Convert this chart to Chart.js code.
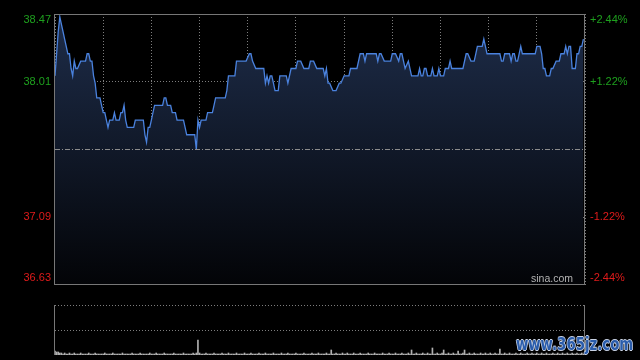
<!DOCTYPE html>
<html>
<head>
<meta charset="utf-8">
<script src="https://cdn.jsdelivr.net/npm/chart.js@4"></script>
<style>
  html, body { margin: 0; padding: 0; background: #000; }
  body { width: 640px; height: 360px; position: relative; overflow: hidden; }
  #priceChart { position: absolute; left: 0; top: 0; }
  #volChart { position: absolute; left: 0; top: 290px; }
  #mark {
    position: absolute; left: 516px; top: 333px;
    font: bold 18px "DejaVu Sans", sans-serif;
    color: #2a5cab;
    transform: scaleX(0.74); transform-origin: left top;
    text-shadow: 1px 0 0 #c8d2e4, -1px 0 0 #c8d2e4, 0 1px 0 #c8d2e4, 0 -1px 0 #c8d2e4;
    white-space: nowrap;
  }
</style>
</head>
<body>
<canvas id="priceChart" width="640" height="300"></canvas>
<canvas id="volChart" width="640" height="70"></canvas>
<div id="mark">www.365jz.com</div>
<script>
// ==========================
// データ（分足: 0 = 9:30, 330 = 16:00）
// ==========================
const PREV_CLOSE = 37.55;
const Y_MIN = 36.63;
const Y_MAX = 38.47;
const priceTicks = [38.47, 38.01, 37.09, 36.63];
const priceLabels = ["38.47", "38.01", "37.09", "36.63"];
const pctLabels = ["+2.44%", "+1.22%", "-1.22%", "-2.44%"];

const priceMinutes = [
  0, 1, 2, 3, 4, 5, 6, 7, 8, 9, 10, 11, 12, 13, 14, 16, 19, 20, 21, 22,
  23, 24, 25, 26, 28, 29, 30, 31, 32, 33, 34, 36, 37, 38, 40, 41, 42, 43, 44, 45,
  49, 50, 55, 56, 57, 58, 59, 60, 61, 62, 67, 68, 69, 70, 72, 73, 75, 76, 80, 81,
  82, 87, 88, 89, 90, 91, 94, 95, 98, 99, 100, 106, 107, 108, 112, 113, 119, 121, 122, 123,
  125, 130, 131, 132, 133, 134, 135, 136, 137, 139, 140, 144, 145, 147, 150, 151, 153, 155, 158, 159,
  161, 163, 167, 168, 169, 170, 171, 173, 175, 177, 178, 180, 183, 184, 188, 190, 192, 193, 194, 199,
  200, 201, 202, 203, 205, 209, 210, 212, 214, 215, 216, 217, 218, 220, 222, 226, 227, 228, 229, 230,
  231, 232, 234, 235, 236, 238, 239, 240, 242, 243, 245, 246, 247, 254, 256, 257, 259, 261, 262, 263,
  265, 266, 267, 268, 269, 277, 278, 279, 280, 282, 283, 284, 285, 286, 287, 288, 289, 290, 291, 299,
  300, 302, 303, 304, 305, 306, 308, 309, 310, 312, 314, 315, 317, 318, 319, 320, 321, 322, 324, 325,
  326, 327, 328, 329
];
const prices = [
  38.05, 38.20, 38.35, 38.45, 38.40, 38.35, 38.30, 38.25, 38.20, 38.20, 38.10, 38.05, 38.15, 38.10, 38.10, 38.15, 38.15, 38.20, 38.20, 38.15,
  38.15, 38.05, 38.00, 37.90, 37.90, 37.85, 37.80, 37.80, 37.75, 37.70, 37.75, 37.75, 37.80, 37.75, 37.75, 37.80, 37.80, 37.85, 37.75, 37.70,
  37.70, 37.75, 37.75, 37.65, 37.60, 37.70, 37.70, 37.75, 37.80, 37.85, 37.85, 37.90, 37.90, 37.85, 37.85, 37.80, 37.80, 37.75, 37.75, 37.70,
  37.65, 37.65, 37.55, 37.75, 37.70, 37.75, 37.75, 37.80, 37.80, 37.85, 37.90, 37.90, 37.95, 38.05, 38.05, 38.15, 38.15, 38.20, 38.20, 38.15,
  38.10, 38.10, 38.00, 38.05, 38.00, 38.05, 38.05, 38.00, 37.95, 37.95, 38.05, 38.05, 38.00, 38.10, 38.10, 38.15, 38.15, 38.10, 38.10, 38.15,
  38.15, 38.10, 38.10, 38.05, 38.10, 38.00, 38.00, 37.95, 37.95, 38.00, 38.00, 38.05, 38.05, 38.10, 38.10, 38.20, 38.20, 38.15, 38.20, 38.20,
  38.20, 38.15, 38.20, 38.20, 38.15, 38.15, 38.20, 38.20, 38.15, 38.20, 38.20, 38.15, 38.10, 38.15, 38.05, 38.05, 38.10, 38.05, 38.05, 38.10,
  38.10, 38.05, 38.05, 38.10, 38.05, 38.05, 38.10, 38.05, 38.05, 38.10, 38.10, 38.15, 38.10, 38.10, 38.20, 38.20, 38.15, 38.15, 38.20, 38.25,
  38.25, 38.25, 38.30, 38.25, 38.20, 38.20, 38.15, 38.15, 38.20, 38.20, 38.20, 38.15, 38.20, 38.20, 38.15, 38.15, 38.20, 38.25, 38.20, 38.20,
  38.25, 38.25, 38.20, 38.10, 38.10, 38.05, 38.05, 38.10, 38.10, 38.15, 38.15, 38.20, 38.20, 38.25, 38.20, 38.25, 38.25, 38.10, 38.10, 38.20,
  38.20, 38.25, 38.25, 38.30
];

// 出来高（1分ごと, 331本）
const volumes = [
  4, 3, 3, 2, 2, 1, 2, 1, 1, 2, 1, 1, 2, 1, 1, 1, 2, 1, 1, 1, 1, 2, 1, 1, 1, 2, 1, 1, 1, 1,
  1, 2, 1, 1, 1, 1, 2, 1, 1, 1, 1, 1, 2, 1, 1, 1, 1, 1, 2, 1, 1, 1, 1, 2, 1, 1, 1, 1, 1, 2,
  1, 1, 1, 2, 1, 1, 1, 1, 2, 1, 1, 1, 1, 1, 2, 1, 1, 1, 1, 1, 2, 1, 1, 1, 1, 1, 2, 1, 2, 15,
  2, 1, 1, 1, 2, 1, 1, 1, 1, 2, 1, 1, 1, 1, 2, 1, 1, 1, 2, 1, 1, 1, 1, 2, 1, 1, 1, 1, 2, 1,
  1, 1, 2, 1, 1, 1, 1, 2, 1, 1, 1, 2, 1, 1, 1, 1, 2, 1, 1, 1, 1, 2, 1, 1, 1, 2, 1, 1, 1, 1,
  2, 1, 1, 1, 1, 2, 1, 1, 1, 1, 2, 1, 1, 1, 2, 1, 1, 1, 1, 2, 1, 1, 5, 1, 1, 2, 1, 1, 1, 2,
  1, 1, 2, 1, 1, 1, 2, 1, 1, 1, 2, 1, 1, 1, 1, 2, 1, 1, 1, 2, 1, 1, 1, 1, 2, 1, 1, 1, 2, 1,
  1, 1, 2, 1, 1, 1, 2, 1, 1, 1, 2, 1, 5, 1, 1, 2, 1, 1, 1, 2, 1, 1, 2, 1, 1, 7, 1, 1, 2, 1,
  1, 2, 5, 1, 1, 2, 1, 1, 2, 1, 1, 4, 1, 1, 2, 5, 1, 1, 2, 1, 1, 2, 1, 1, 1, 2, 1, 1, 2, 1,
  1, 2, 1, 1, 2, 1, 1, 6, 1, 1, 2, 1, 1, 2, 1, 1, 1, 2, 1, 1, 2, 1, 1, 1, 2, 1, 1, 2, 1, 1,
  2, 1, 1, 2, 1, 1, 2, 1, 1, 1, 2, 1, 1, 2, 1, 1, 2, 1, 1, 2, 1, 1, 2, 1, 1, 2, 1, 1, 2, 1,
  2
];
const VOL_MAX = 50;

// ==========================
// 色
// ==========================
const GREEN = "#1ea01e";
const RED = "#e01b1b";
const GRID = "#7d7d7d";
const FRAME = "#777777";
const LINE = "rgb(74,130,222)";
const FONT = "11px 'Liberation Sans', Arial, sans-serif";

// ==========================
// 枠線・ラベル描画
// ==========================
const priceDecor = {
  id: "priceDecor",
  afterDraw(chart) {
    const { ctx, chartArea: a, scales: { y } } = chart;
    ctx.save();
    ctx.strokeStyle = FRAME;
    ctx.lineWidth = 1;
    ctx.strokeRect(a.left - 0.5, a.top + 0.5, a.right - a.left, a.bottom - a.top - 1);

    ctx.font = FONT;
    ctx.textBaseline = "middle";
    priceTicks.forEach((v, i) => {
      let py = y.getPixelForValue(v);
      py = Math.min(Math.max(py, a.top + 6), a.bottom - 7);
      ctx.fillStyle = v > PREV_CLOSE ? GREEN : RED;
      ctx.textAlign = "right";
      ctx.fillText(priceLabels[i], a.left - 4, py);
      ctx.textAlign = "left";
      ctx.fillText(pctLabels[i], a.right + 5, py);
    });

    ctx.fillStyle = "#b4b4b4";
    ctx.textAlign = "right";
    ctx.font = "10.5px 'Liberation Sans', Arial, sans-serif";
    ctx.fillText("sina.com", a.right - 12, a.bottom - 6);
    ctx.restore();
  }
};

const volDecor = {
  id: "volDecor",
  afterDraw(chart) {
    const { ctx, chartArea: a } = chart;
    ctx.save();
    ctx.strokeStyle = FRAME;
    ctx.lineWidth = 1;
    ctx.beginPath();
    ctx.moveTo(a.left - 0.5, a.top);
    ctx.lineTo(a.left - 0.5, a.bottom);
    ctx.moveTo(a.right - 0.5, a.top);
    ctx.lineTo(a.right - 0.5, a.bottom);
    ctx.stroke();
    ctx.restore();
  }
};

// ==========================
// 分時チャート
// ==========================
new Chart(document.getElementById("priceChart"), {
  type: "line",
  data: {
    datasets: [
      {
        data: [{ x: 0, y: PREV_CLOSE }, { x: 330, y: PREV_CLOSE }],
        borderColor: "#8c8c8c",
        borderWidth: 1,
        borderDash: [5, 2, 1, 2],
        pointRadius: 0,
        fill: false
      },
      {
        data: priceMinutes.map((m, i) => ({ x: m, y: prices[i] })),
        borderColor: LINE,
        borderWidth: 1.3,
        pointRadius: 0,
        tension: 0,
        fill: "start",
        backgroundColor: (c) => {
          const area = c.chart.chartArea;
          if (!area) return "rgba(20,30,50,1)";
          const g = c.chart.ctx.createLinearGradient(0, area.top, 0, area.bottom);
          g.addColorStop(0, "rgb(30,45,74)");
          g.addColorStop(1, "rgb(3,4,7)");
          return g;
        }
      }
    ]
  },
  options: {
    responsive: false,
    animation: false,
    layout: { padding: { left: 55, right: 55, top: 14, bottom: 15 } },
    plugins: { legend: { display: false }, tooltip: { enabled: false } },
    scales: {
      x: {
        type: "linear",
        min: 0,
        max: 330,
        ticks: { display: false, stepSize: 30 },
        grid: { color: GRID, drawTicks: false },
        border: { display: false, dash: [1, 2] }
      },
      y: {
        min: Y_MIN,
        max: Y_MAX,
        afterBuildTicks: (s) => { s.ticks = [{ value: 37.09 }, { value: 38.01 }]; },
        ticks: { display: false },
        grid: { color: GRID, drawTicks: false },
        border: { display: false, dash: [1, 2] }
      }
    }
  },
  plugins: [priceDecor]
});

// ==========================
// 出来高チャート
// ==========================
new Chart(document.getElementById("volChart"), {
  type: "bar",
  data: {
    labels: volumes.map((v, i) => i),
    datasets: [{
      data: volumes,
      backgroundColor: "#b0b0b0",
      barThickness: 1,
      borderWidth: 0
    }]
  },
  options: {
    responsive: false,
    animation: false,
    layout: { padding: { left: 55, right: 55, top: 15, bottom: 5 } },
    plugins: { legend: { display: false }, tooltip: { enabled: false } },
    scales: {
      x: {
        type: "linear",
        min: 0,
        max: 330,
        offset: false,
        ticks: { display: false },
        grid: { display: false, offset: false, drawTicks: false },
        border: { display: false }
      },
      y: {
        min: 0,
        max: VOL_MAX,
        afterBuildTicks: (s) => { s.ticks = [{ value: 25 }, { value: 50 }]; },
        ticks: { display: false },
        grid: { color: GRID, drawTicks: false },
        border: { display: false, dash: [1, 2] }
      }
    }
  },
  plugins: [volDecor]
});
</script>
</body>
</html>
